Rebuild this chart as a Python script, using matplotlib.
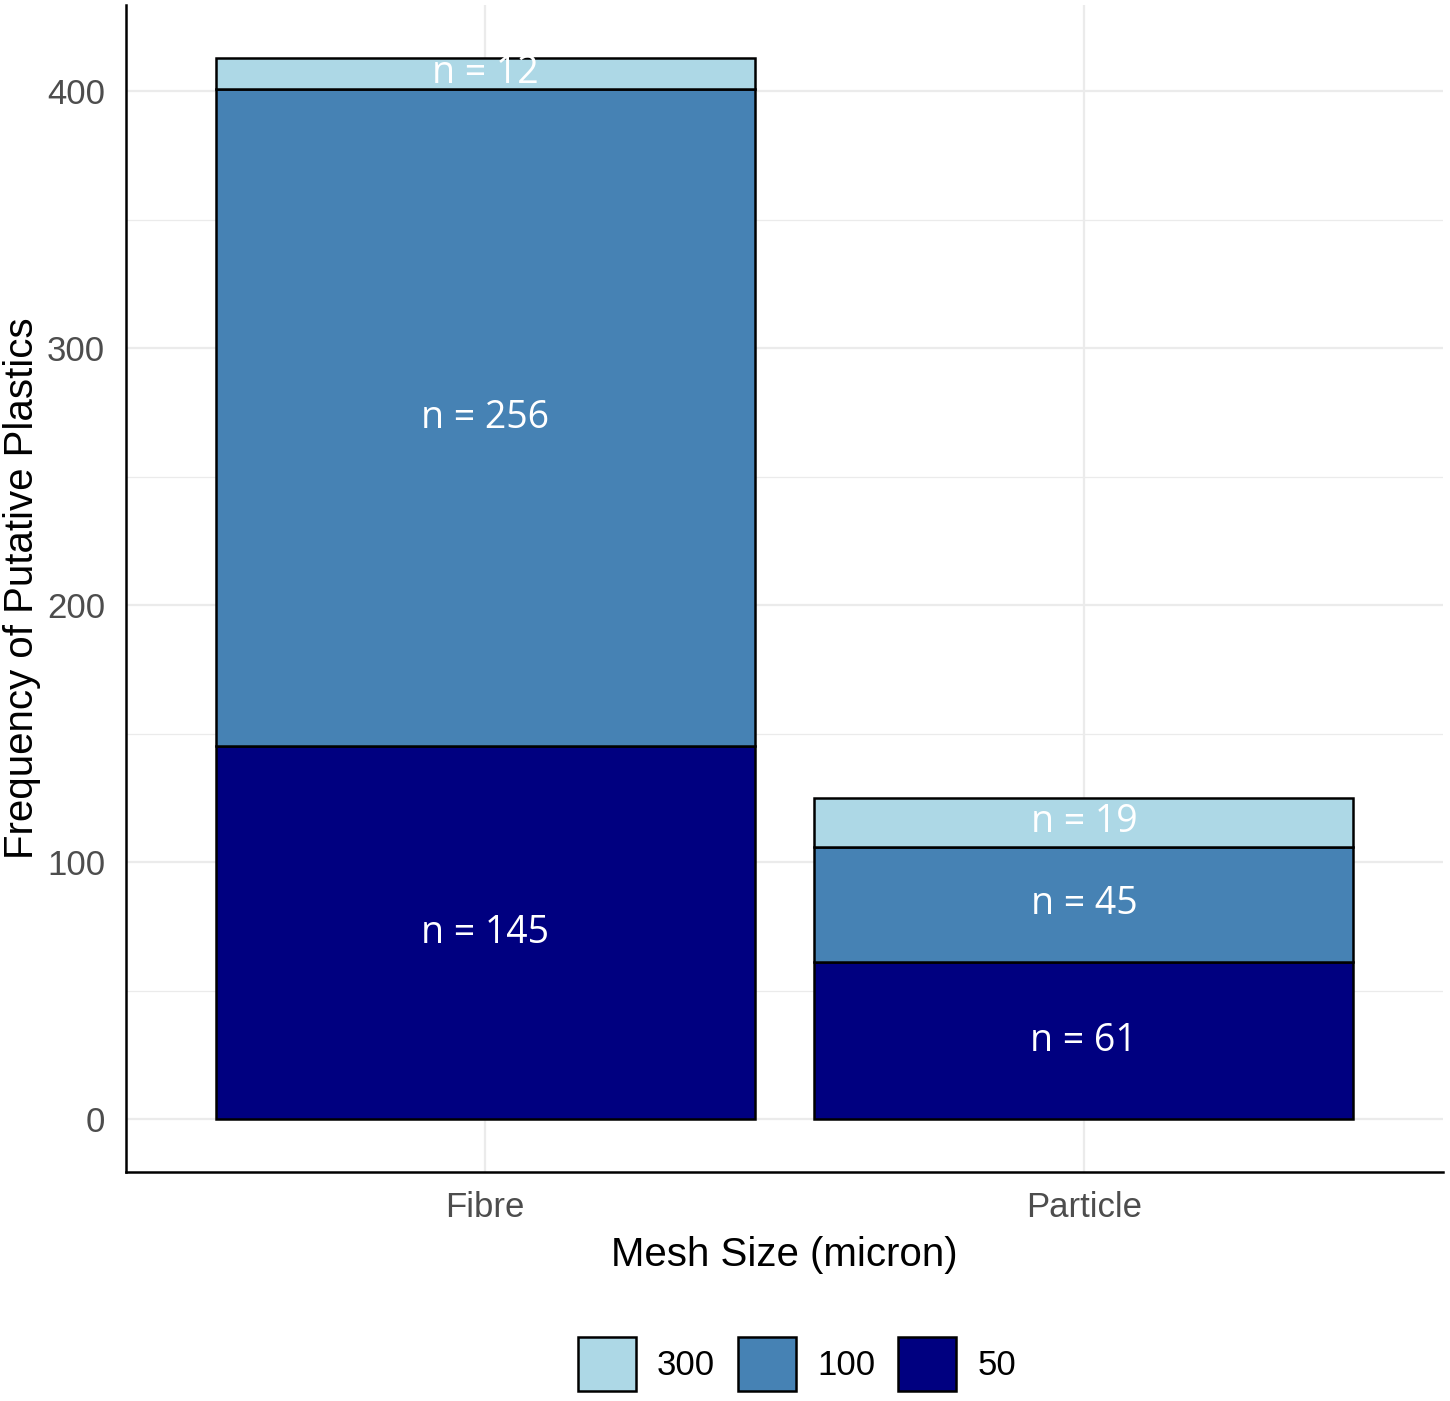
import numpy as np
import matplotlib
matplotlib.use("Agg")
import matplotlib.pyplot as plt
from matplotlib.patches import Patch

# data
categories = ["Fibre", "Particle"]
mesh_sizes = ["50", "100", "300"]          # stacking order, bottom to top
counts_50 = [145, 61]
counts_100 = [256, 45]
counts_300 = [12, 19]
colours = {"50": "#000080", "100": "#4682B4", "300": "#ADD8E6"}

sans = ["Liberation Sans", "DejaVu Sans"]

fig = plt.figure(figsize=(14.5, 14.01), dpi=100)
ax = fig.add_axes([126 / 1450, 1 - 1172 / 1401, (1443 - 126) / 1450, (1172 - 5) / 1401])

x = np.arange(len(categories))
bottom = np.zeros(len(categories))
series = {"50": counts_50, "100": counts_100, "300": counts_300}
for m in mesh_sizes:
    vals = np.array(series[m], dtype=float)
    ax.bar(x, vals, width=0.9, bottom=bottom, color=colours[m],
           edgecolor="black", linewidth=1.8, zorder=3)
    for xi, b, v in zip(x, bottom, vals):
        ax.text(xi, b + v / 2, f"n = {int(v)}", color="white", ha="center",
                va="center", fontsize=27, family=["Open Sans", "DejaVu Sans"], zorder=4)
    bottom += vals

ax.set_xlim(-0.6, 1.6)
ax.set_ylim(-20.65, 433.65)
ax.set_xticks(x)
ax.set_xticklabels(categories)
ax.set_yticks([0, 100, 200, 300, 400])
ax.set_yticks([50, 150, 250, 350], minor=True)

ax.grid(True, which="major", color="#EBEBEB", linewidth=1.6, zorder=0)
ax.grid(True, which="minor", axis="y", color="#EBEBEB", linewidth=0.9, zorder=0)
ax.set_axisbelow(True)

for s in ["top", "right"]:
    ax.spines[s].set_visible(False)
for s in ["left", "bottom"]:
    ax.spines[s].set_linewidth(1.8)
    ax.spines[s].set_color("black")

ax.tick_params(which="both", length=0, labelsize=25, labelcolor="#4D4D4D")
ax.tick_params(axis="y", pad=15)
ax.tick_params(axis="x", pad=14)
for lab in ax.get_xticklabels() + ax.get_yticklabels():
    lab.set_family(sans)

ax.set_xlabel("Mesh Size (micron)", fontsize=29, family=sans, labelpad=8)
ax.set_ylabel("Frequency of Putative Plastics", fontsize=29, family=sans, labelpad=4)

handles = [Patch(facecolor=colours[m], edgecolor="black", linewidth=1.8, label=m)
           for m in ["300", "100", "50"]]
fig.legend(handles=handles, loc="center", ncol=3, frameon=False,
           bbox_to_anchor=(797 / 1450, 1 - 1364 / 1401),
           prop={"family": sans, "size": 25},
           handlelength=1.67, handleheight=2.05, handletextpad=0.6,
           columnspacing=0.67, borderpad=0)

fig.savefig("out.png", dpi=100, facecolor="white")
